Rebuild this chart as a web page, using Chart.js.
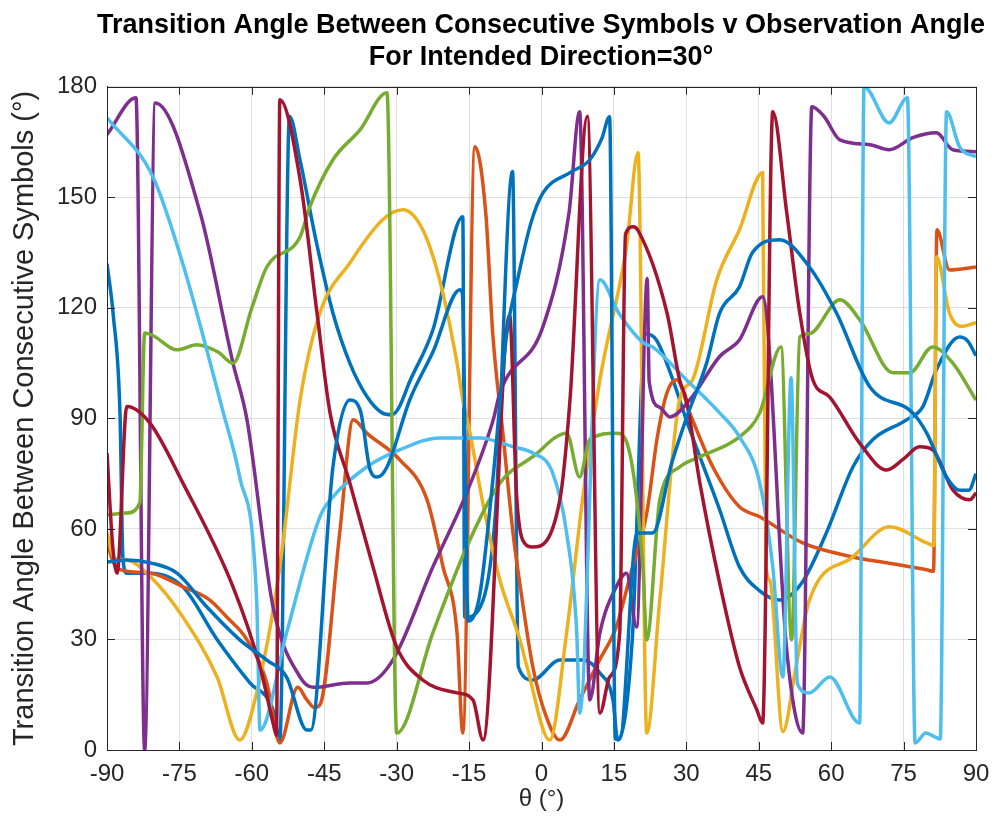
<!DOCTYPE html>
<html>
<head>
<meta charset="utf-8">
<title>Transition Angle v Observation Angle</title>
<script src="https://cdn.jsdelivr.net/npm/chart.js@4.4.1/dist/chart.umd.min.js"></script>
<style>
    html, body { margin: 0; padding: 0; background: #fff; overflow: hidden; }
    #wrap { width: 994px; height: 834px; overflow: hidden; position: relative; }
</style>
</head>
<body>
<div id="wrap">
    <canvas id="grafico-transicion" width="1082" height="834"></canvas>
</div>
<script>
// Textos
const titleLines = ['Transition Angle Between Consecutive Symbols v Observation Angle', 'For Intended Direction=30°'];
const xLabel = 'θ (°)';
const yLabel = 'Transition Angle Between Consecutive Symbols (°)';

// Ticks
const xTicks = [-90, -75, -60, -45, -30, -15, 0, 15, 30, 45, 60, 75, 90];
const yTicks = [0, 30, 60, 90, 120, 150, 180];

// Colores (orden por defecto de MATLAB)
const seriesColors = ['#0072BD', '#D95319', '#EDB120', '#7E2F8E', '#77AC30', '#4DBEEE', '#A2142F', '#0072BD'];

// Serie 1 (azul)
const theta1 = [-90, -88.7, -87.3, -86.7, -85.9, -81, -74.3, -67.2, -60.4, -55.6, -54.2, -52.2, -50, -46.5, -43.2, -39.7, -36.2, -33, -31, -29.5, -27.3, -22.5, -16.3, -15.9, -12.1, -9.5, -6, -4.8, -1.8, 3.8, 8.5, 12.1, 14.8, 15.8, 18.8, 21.5, 23.8, 27.2, 30, 32.8, 36.9, 41, 45, 49.3, 53.9, 59, 64.5, 68.6, 75.6, 79, 81.8, 86.6, 88.3, 90];
const angle1 = [132, 118, 91, 52, 48, 48, 44.3, 30, 18.2, 10.9, 2.7, 172, 160, 137, 118.6, 105, 96, 91.5, 91, 93, 100, 114, 144.7, 36, 40.7, 65, 157, 22.6, 19, 24.4, 24.4, 20.9, 13.6, 2.7, 30, 113, 111.3, 100.5, 89.6, 79.6, 65.2, 49.7, 43.4, 40.7, 45.3, 58.9, 76.8, 84.2, 89.6, 93.2, 103.2, 112.1, 111, 107];

// Serie 2 (naranja)
const theta2 = [-90, -89, -87.5, -81, -74.3, -68.7, -65.2, -61, -56.9, -54.2, -50.5, -48.6, -47, -45.8, -41.8, -39, -36.2, -29.3, -23.7, -20.4, -17.5, -16.3, -13.8, -11.5, -10.1, -8, -5.9, -4.5, -1.8, 1, 3.8, 7.9, 12, 15.5, 18.5, 21.8, 24, 26, 28, 30.7, 35.5, 41, 45.2, 54.1, 64.5, 71.5, 79.8, 81.2, 81.9, 84.5, 90];
const angle2 = [57, 52, 49, 48, 44.3, 40.7, 36.1, 29.9, 18.2, 1.9, 17, 13.6, 11.5, 12.5, 58.9, 89.6, 86, 78.7, 67.9, 49.7, 31.8, 4.6, 163.7, 145, 113, 86, 58.9, 45.3, 22.6, 9, 2.7, 13.6, 24.4, 33.4, 48, 64.3, 85, 97, 100.5, 91.5, 76.8, 66, 63.3, 56.2, 52.4, 50.8, 48.9, 48.5, 141.2, 130.3, 131.1];

// Serie 3 (amarillo)
const theta3 = [-90, -88.5, -86, -81, -74.3, -67.2, -62.5, -59, -54.2, -50, -45.9, -39.7, -32.9, -28.7, -24.6, -21.1, -17.5, -16.3, -14.8, -12, -8.6, -4.5, -3, 1.7, 5.2, 8.5, 12.1, 17.6, 20, 21.8, 24.5, 28.6, 31.3, 36.3, 41, 45.8, 46.5, 47.3, 50, 52.7, 55.5, 64.5, 72.1, 79.8, 81.3, 81.8, 84.5, 87, 90];
const angle3 = [59, 52, 51.6, 47, 36.1, 19.8, 2.7, 15.5, 49.7, 95, 118.6, 132.2, 143.9, 146.6, 141.2, 127.6, 105, 95, 86, 66, 46, 30, 22.6, 2.7, 31.8, 67.9, 100.5, 136.6, 162.1, 4.6, 40.7, 95, 100.5, 127.6, 141.2, 156.7, 50, 46, 5, 22.6, 40.7, 52.4, 60.6, 56.2, 55.5, 133.9, 118.6, 115, 116];

// Serie 4 (morado)
const theta4 = [-90, -84, -82.2, -80, -70.7, -63.9, -61, -55.6, -50, -47.3, -39.7, -36.2, -30.8, -22.5, -15.5, -10, -8.6, 0.3, 5.7, 7.9, 10, 12.1, 15.5, 17.6, 19.7, 21.9, 22.3, 24.5, 26.6, 30.7, 36.9, 41, 45.8, 50.8, 54.1, 56, 58.5, 61.8, 68, 72, 76.9, 81.8, 85.2, 90];
const angle4 = [167, 177, 0, 175.6, 145.8, 105, 89.6, 38.8, 19.8, 17, 18.2, 18.2, 24.4, 49.7, 69.8, 89.6, 97, 114.9, 145.8, 173.2, 13.6, 31.8, 44.3, 48, 33.4, 128, 100, 93, 90.4, 95, 106.8, 111.3, 123, 27, 4.6, 174.6, 172, 165.6, 164.3, 162.9, 166.2, 167.5, 162.9, 162.4];

// Serie 5 (verde)
const theta5 = [-90, -86, -83.2, -82.2, -80.5, -75.5, -71.4, -67, -63.9, -60, -56.9, -50, -48, -43.2, -37.6, -32, -30, -22.5, -15.5, -8.6, -1.8, 5.2, 7.9, 10, 15.5, 17.5, 21, 21.8, 24.5, 28.6, 32.8, 41, 45.2, 49.6, 51.8, 53.5, 55.5, 61.8, 65.9, 72.8, 76.3, 81, 85.2, 90];
const angle5 = [63.8, 64.3, 67.1, 113.2, 112.5, 108.6, 110, 108, 105, 120, 131.1, 139.3, 147.4, 160.2, 168.3, 178.4, 4.6, 31.8, 55.1, 72.5, 79.6, 86, 74.1, 84.2, 86, 84, 49.7, 29.9, 67.9, 76.8, 79.6, 85, 91.5, 109.4, 29.9, 112.1, 113, 122.2, 116.8, 102.4, 102.4, 109.4, 105, 95];

// Serie 6 (celeste)
const theta6 = [-90, -80.5, -74.3, -66, -62.5, -59, -58.3, -52.8, -45.9, -43.2, -36.2, -29.3, -21.1, -12.8, -5.9, -1.8, 2.3, 5.2, 7.3, 7.9, 12.1, 16, 21.1, 23, 30, 36.9, 41, 45.2, 47.9, 50, 51.7, 53, 55.5, 59.7, 65.9, 66.8, 72, 75.8, 77.4, 79.6, 81.6, 82.6, 83.9, 86.6, 90];
const angle6 = [171.6, 155.6, 132, 92, 74, 40.7, 5.4, 31.8, 63.3, 68.7, 76.8, 81.5, 84.7, 84.7, 82.3, 80.6, 75.2, 58.9, 31.8, 10, 127.6, 118.6, 110.5, 109.4, 100.5, 91.5, 85, 72.5, 49.7, 19.8, 101, 18, 15.5, 19.8, 7.3, 180, 170.2, 177, 1.9, 4.6, 3.5, 3, 173.2, 163.7, 161];

// Serie 7 (rojo oscuro)
const theta7 = [-90, -88.8, -87.9, -85.9, -81.1, -74.3, -63.9, -58.3, -55.6, -54.9, -54.2, -50, -46.5, -43.8, -39.7, -34.9, -30, -24.6, -17.5, -14.2, -12.1, -6.6, -5.2, -3.9, -1.8, 3.8, 5.9, 9.5, 12.1, 14.1, 16.2, 17.4, 19, 20, 26, 28.6, 30, 32.8, 36.9, 41, 44.6, 45.8, 47.9, 50.8, 53.5, 56.2, 59.7, 65.9, 71.5, 75, 78.3, 81, 85.2, 88.7, 90];
const angle7 = [80.6, 55, 48, 93.2, 88.7, 72.5, 44.3, 22.6, 7.3, 4, 176.5, 154.8, 118.6, 91.5, 72.5, 49.7, 28, 19, 15.5, 13.6, 2.7, 118, 70, 57, 55.1, 67.9, 95, 172, 10, 19.8, 31.8, 140, 142, 141, 118.6, 100.5, 95, 72.5, 45.3, 22.6, 10.9, 7.3, 173.2, 145.8, 118.6, 100.5, 95.8, 83.3, 76, 79, 82.3, 81.5, 70.6, 67.9, 69.8];

// Serie 8 (azul)
const theta8 = [-90, -86, -81, -75.5, -69.3, -62.5, -56.9, -52.8, -48.6, -47.8, -43.2, -39.7, -37.5, -35.5, -34, -32, -27.3, -22.5, -16.9, -16.4, -15.2, -12.8, -10.1, -7.2, -5.1, -2.2, 0.3, 5.9, 10, 12.5, 14.1, 15.3, 16.2, 19.8, 23, 27, 30, 34.2, 36.9, 41, 43.7, 49.3, 55.5, 61.1, 68, 76.9, 79.8, 83.9, 86.6, 88.5, 90];
const angle8 = [51, 51.6, 50.8, 48, 38.8, 29.9, 24.4, 19.8, 5.4, 5.4, 76.8, 95, 92, 76, 74.1, 76.8, 95, 108, 124.9, 124, 35, 42, 73, 113, 126.8, 143, 151.2, 156.7, 160.2, 166, 171.9, 3, 3, 58.9, 58.9, 78, 90, 105, 118.6, 125.7, 135, 138.5, 131.1, 118.6, 98.6, 91.5, 86, 74.1, 70.5, 70.5, 75];

const allThetas = [theta1, theta2, theta3, theta4, theta5, theta6, theta7, theta8];
const allAngles = [angle1, angle2, angle3, angle4, angle5, angle6, angle7, angle8];

const fontFamily = '"Liberation Sans", Arial, Helvetica, sans-serif';
const axisColor = '#262626';

// Caja del eje con marcas hacia dentro (como en MATLAB)
const boxPlugin = {
    id: 'cajaEjes',
    afterDatasetsDraw(chart) {
        const { ctx, chartArea: a, scales } = chart;
        const len = 8;
        ctx.save();
        ctx.strokeStyle = axisColor;
        ctx.lineWidth = 1;
        ctx.beginPath();
        ctx.rect(Math.round(a.left) + 0.5, Math.round(a.top) + 0.5, Math.round(a.width), Math.round(a.height));
        xTicks.forEach(t => {
            const px = Math.round(scales.x.getPixelForValue(t)) + 0.5;
            ctx.moveTo(px, a.bottom); ctx.lineTo(px, a.bottom - len);
            ctx.moveTo(px, a.top); ctx.lineTo(px, a.top + len);
        });
        yTicks.forEach(t => {
            const py = Math.round(scales.y.getPixelForValue(t)) + 0.5;
            ctx.moveTo(a.left, py); ctx.lineTo(a.left + len, py);
            ctx.moveTo(a.right, py); ctx.lineTo(a.right - len, py);
        });
        ctx.stroke();
        ctx.restore();
    }
};

function renderizarGrafico() {
    const ctx = document.getElementById('grafico-transicion').getContext('2d');

    const datasets = allThetas.map((thetas, i) => ({
        label: 'Serie ' + (i + 1),
        data: thetas.map((t, k) => ({ x: t, y: allAngles[i][k] })),
        borderColor: seriesColors[i],
        backgroundColor: seriesColors[i],
        borderWidth: 3.5,
        pointRadius: 0,
        fill: false,
        cubicInterpolationMode: 'monotone',
        order: allThetas.length - i // la ultima serie queda encima
    }));

    new Chart(ctx, {
        type: 'line',
        data: { datasets: datasets },
        plugins: [boxPlugin],
        options: {
            responsive: false,
            animation: false,
            events: [],
            plugins: {
                legend: { display: false },
                tooltip: { enabled: false },
                title: {
                    display: true,
                    text: titleLines,
                    color: '#000',
                    font: { family: fontFamily, size: 27, weight: 'bold', lineHeight: 1.2 },
                    padding: { top: 9, bottom: 13 }
                }
            },
            scales: {
                x: {
                    type: 'linear',
                    min: -90,
                    max: 90,
                    afterBuildTicks: s => { s.ticks = xTicks.map(v => ({ value: v })); },
                    afterFit: s => { s.height = 84; },
                    ticks: { color: axisColor, font: { family: fontFamily, size: 24 }, padding: 10, maxRotation: 0 },
                    grid: { color: 'rgba(38,38,38,0.15)', drawTicks: false },
                    border: { display: true, color: axisColor },
                    title: { display: true, text: xLabel, color: axisColor, font: { family: fontFamily, size: 24 }, padding: { top: 0, bottom: 20 } }
                },
                y: {
                    min: 0,
                    max: 180,
                    afterBuildTicks: s => { s.ticks = yTicks.map(v => ({ value: v })); },
                    afterFit: s => { s.width = 107; },
                    ticks: { color: axisColor, font: { family: fontFamily, size: 24 }, padding: 10 },
                    grid: { color: 'rgba(38,38,38,0.15)', drawTicks: false },
                    border: { display: true, color: axisColor },
                    title: { display: true, text: yLabel, color: axisColor, font: { family: fontFamily, size: 29 }, padding: { top: 8, bottom: 0 } }
                },
                // eje vacio a la derecha: solo reserva espacio (el lienzo se recorta a 994 px)
                yDerecha: {
                    position: 'right',
                    min: 0,
                    max: 180,
                    afterFit: s => { s.width = 106; },
                    ticks: { display: false },
                    grid: { display: false },
                    border: { display: false }
                }
            }
        }
    });
}

document.addEventListener('DOMContentLoaded', renderizarGrafico);
</script>
</body>
</html>
